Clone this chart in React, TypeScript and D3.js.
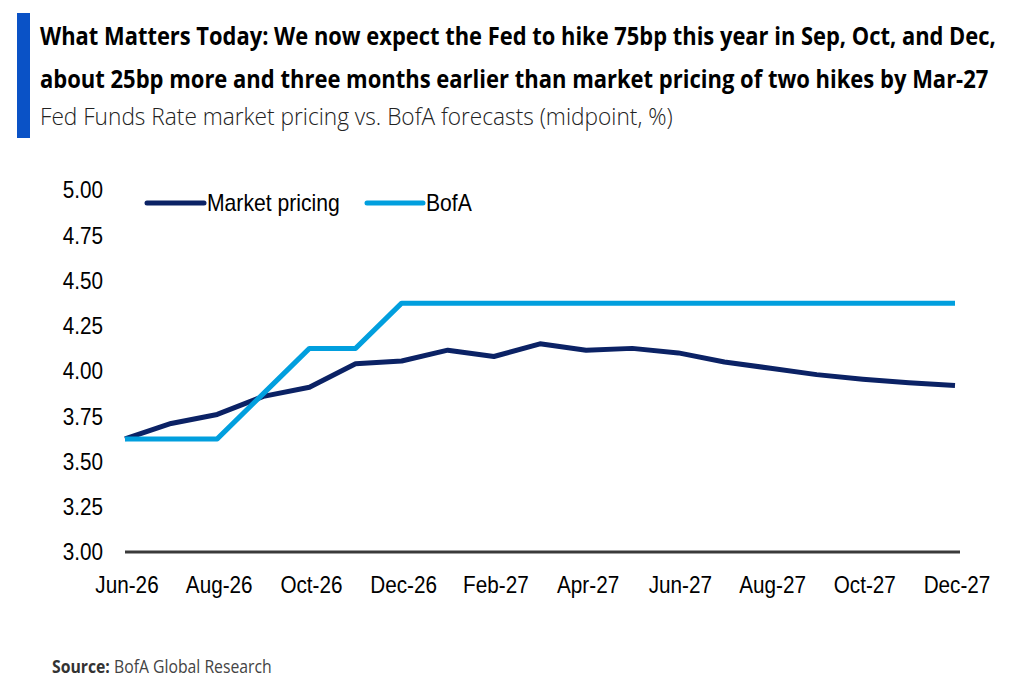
import React, { useLayoutEffect, useRef, useState } from "react";
import * as d3 from "d3";

// months on the x axis
const months = [
  "Jun-26", "Jul-26", "Aug-26", "Sep-26", "Oct-26", "Nov-26", "Dec-26",
  "Jan-27", "Feb-27", "Mar-27", "Apr-27", "May-27", "Jun-27",
  "Jul-27", "Aug-27", "Sep-27", "Oct-27", "Nov-27", "Dec-27",
];
const tickMonths = ["Jun-26", "Aug-26", "Oct-26", "Dec-26", "Feb-27", "Apr-27", "Jun-27", "Aug-27", "Oct-27", "Dec-27"];
const yTicks = [3.0, 3.25, 3.5, 3.75, 4.0, 4.25, 4.5, 4.75, 5.0];

const marketPricing = [
  3.625, 3.71, 3.76, 3.86, 3.91, 4.04, 4.055, 4.115, 4.08, 4.15,
  4.115, 4.125, 4.1, 4.05, 4.015, 3.98, 3.955, 3.935, 3.92,
];
const bofa = [
  3.625, 3.625, 3.625, 3.875, 4.125, 4.125, 4.375, 4.375, 4.375, 4.375,
  4.375, 4.375, 4.375, 4.375, 4.375, 4.375, 4.375, 4.375, 4.375,
];

const series = [
  { name: "Market pricing", color: "#0b2265", values: marketPricing },
  { name: "BofA", color: "#019fde", values: bofa },
];

const titleLines = [
  "What Matters Today: We now expect the Fed to hike 75bp this year in Sep, Oct, and Dec,",
  "about 25bp more and three months earlier than market pricing of two hikes by Mar-27",
];
const subtitle = "Fed Funds Rate market pricing vs. BofA forecasts (midpoint, %)";

const W = 1023;
const H = 694;
const axisFont = "'Liberation Sans', Arial, sans-serif";
const titleFont = "'Open Sans', 'Noto Sans', sans-serif";

// squeezes a text horizontally so it spans `width` px from x
function FitText({ x, y, width, children, ...rest }: any) {
  const ref = useRef<SVGTextElement>(null);
  const [k, setK] = useState(1);
  useLayoutEffect(() => {
    if (ref.current) {
      const len = ref.current.getComputedTextLength();
      if (len > 0) setK(width / len);
    }
  }, [width]);
  return (
    <g transform={`translate(${x},${y}) scale(${k},1)`}>
      <text ref={ref} {...rest}>{children}</text>
    </g>
  );
}

export default function App() {
  const x = d3.scalePoint<string>().domain(months).range([125, 955]);
  const y = d3.scaleLinear().domain([3, 5]).range([552, 190]);

  const line = d3
    .line<number>()
    .x((d, i) => x(months[i]) as number)
    .y((d) => y(d));

  // legend positions
  const legend = [
    { x0: 147, x1: 204, tx: 207 },
    { x0: 367, x1: 423, tx: 426 },
  ];

  return (
    <svg width={W} height={H} style={{ position: "absolute", left: 0, top: 0, background: "#fff" }}>
      {/* header */}
      <rect x={17} y={13} width={13} height={125} fill="#0a52c6" />
      <FitText x={40} y={45} width={956} fontFamily={titleFont} fontWeight={700} fontSize={25} fill="#000">
        {titleLines[0]}
      </FitText>
      <FitText x={40} y={88} width={949} fontFamily={titleFont} fontWeight={700} fontSize={25} fill="#000">
        {titleLines[1]}
      </FitText>
      <FitText x={40} y={125} width={633} fontFamily={titleFont} fontWeight={300} fontSize={23} fill="#222">
        {subtitle}
      </FitText>

      {/* y tick labels */}
      {yTicks.map((t) => (
        <g key={t} transform={`translate(103,${y(t)}) scale(0.9,1)`}>
          <text textAnchor="end" dy="0.36em" fontFamily={axisFont} fontSize={23} fill="#000">
            {t.toFixed(2)}
          </text>
        </g>
      ))}

      {/* x axis */}
      <line x1={x(months[0])} x2={(x(months[months.length - 1]) as number) + 5} y1={y(3)} y2={y(3)}
        stroke="#3a3a3a" strokeWidth={3} />
      {tickMonths.map((m) => (
        <g key={m} transform={`translate(${(x(m) as number) + 2},593) scale(0.9,1)`}>
          <text textAnchor="middle" fontFamily={axisFont} fontSize={23} fill="#000">{m}</text>
        </g>
      ))}

      {/* lines */}
      {series.map((s) => (
        <path key={s.name} d={line(s.values) || ""} fill="none" stroke={s.color} strokeWidth={5}
          strokeLinejoin="round" />
      ))}

      {/* legend */}
      {series.map((s, i) => (
        <g key={s.name}>
          <line x1={legend[i].x0} x2={legend[i].x1} y1={203} y2={203} stroke={s.color}
            strokeWidth={5} strokeLinecap="round" />
          <g transform={`translate(${legend[i].tx},211) scale(0.92,1)`}>
            <text fontFamily={axisFont} fontSize={23} fill="#000">{s.name}</text>
          </g>
        </g>
      ))}

      {/* source */}
      <FitText x={52} y={673} width={220} fontFamily={titleFont} fontSize={18} fill="#444">
        <tspan fontWeight={700} fill="#333">Source:</tspan>
        <tspan fontWeight={400}> BofA Global Research</tspan>
      </FitText>
    </svg>
  );
}
